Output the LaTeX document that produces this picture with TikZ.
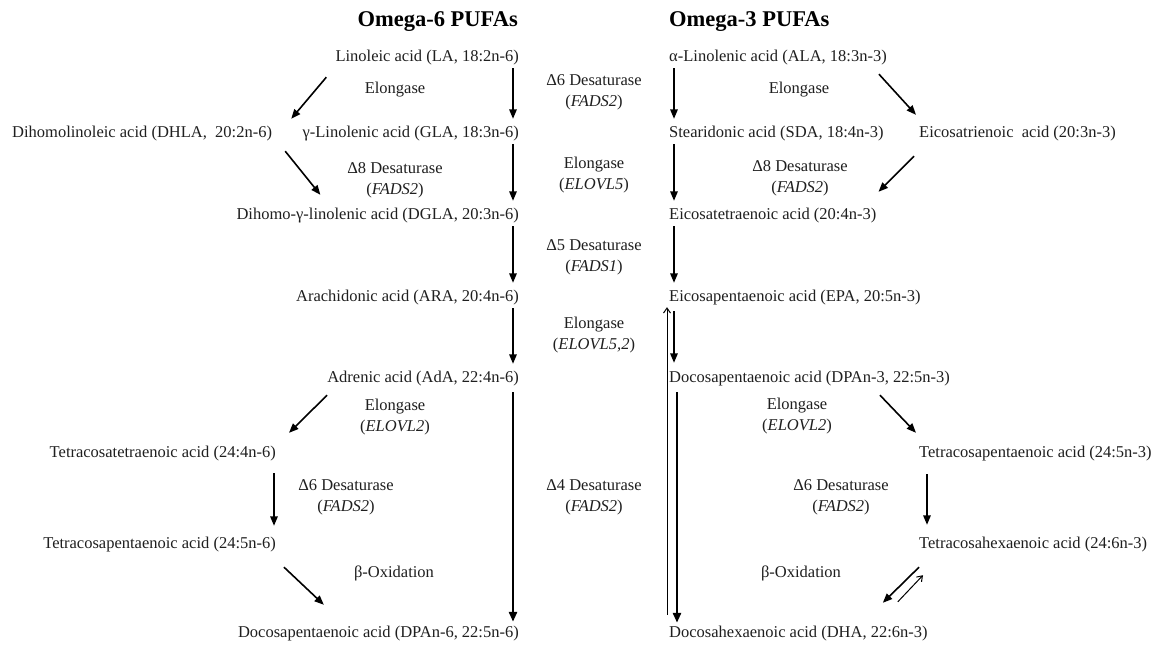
\documentclass[tikz,border=0pt]{standalone}
\usepackage{fontspec}
\setmainfont{Liberation Serif}
\usetikzlibrary{arrows.meta,calc}
\begin{document}
\begin{tikzpicture}[x=1pt,y=-1pt,
  tx/.style={font=\fontsize{16.5}{21}\selectfont, text=black!88, inner sep=0pt, text height=12pt, text depth=4pt},
  lbl/.style={font=\fontsize{16.5}{21}\selectfont, text=black!88, align=center, inner sep=0pt},
  ttl/.style={font=\fontsize{22.5}{26}\selectfont\bfseries, inner sep=0pt},
  arr/.style={line width=1.6pt, -{Triangle[length=9.5pt,width=7.5pt]}},
  thk/.style={line width=2.6pt, -{Triangle[length=10pt,width=8pt]}},
  thn/.style={line width=1pt, -{Straight Barb[length=5pt,width=7pt]}}]
\useasboundingbox (0,0) rectangle (1168,648);
\fill[white] (0,0) rectangle (1168,648);
% titles
\node[ttl,anchor=east] (t6) at (518,22) {Omega-6 PUFAs};
\node[ttl,anchor=west] (t3) at (669,22) {Omega-3 PUFAs};
% omega-6 column
\node[tx,anchor=east] (la) at (519,57) {Linoleic acid (LA, 18:2n-6)};
\node[tx,anchor=east] (gla) at (519,133) {γ-Linolenic acid (GLA, 18:3n-6)};
\node[tx,anchor=west] (dhla) at (12,133) {Dihomolinoleic acid (DHLA,\ \ 20:2n-6)};
\node[tx,anchor=east] (dgla) at (519,215) {Dihomo-γ-linolenic acid (DGLA, 20:3n-6)};
\node[tx,anchor=east] (ara) at (519,297) {Arachidonic acid (ARA, 20:4n-6)};
\node[tx,anchor=east] (ada) at (519,378) {Adrenic acid (AdA, 22:4n-6)};
\node[tx,anchor=east] (tta) at (276,453) {Tetracosatetraenoic acid (24:4n-6)};
\node[tx,anchor=east] (tpa6) at (276,544) {Tetracosapentaenoic acid (24:5n-6)};
\node[tx,anchor=east] (dpa6) at (519,633) {Docosapentaenoic acid (DPAn-6, 22:5n-6)};
% omega-3 column
\node[tx,anchor=west] (ala) at (669,57) {α-Linolenic acid (ALA, 18:3n-3)};
\node[tx,anchor=west] (sda) at (669,133) {Stearidonic acid (SDA, 18:4n-3)};
\node[tx,anchor=west] (etr) at (919,133) {Eicosatrienoic\ \ acid (20:3n-3)};
\node[tx,anchor=west] (eta) at (669,215) {Eicosatetraenoic acid (20:4n-3)};
\node[tx,anchor=west] (epa) at (669,297) {Eicosapentaenoic acid (EPA, 20:5n-3)};
\node[tx,anchor=west] (dpa3) at (669,378) {Docosapentaenoic acid (DPAn-3, 22:5n-3)};
\node[tx,anchor=west] (tpa3) at (919,453) {Tetracosapentaenoic acid (24:5n-3)};
\node[tx,anchor=west] (tha) at (919,544) {Tetracosahexaenoic acid (24:6n-3)};
\node[tx,anchor=west] (dha) at (669,633) {Docosahexaenoic acid (DHA, 22:6n-3)};
% enzyme labels, left
\node[lbl] (l1) at (395,90) {Elongase};
\node[lbl] (l2) at (395,180) {Δ8 Desaturase\\(\textit{FADS2})};
\node[lbl] (l3) at (395,417) {Elongase\\(\textit{ELOVL2})};
\node[lbl] (l4) at (346,497) {Δ6 Desaturase\\(\textit{FADS2})};
\node[lbl] (l5) at (394,573) {β-Oxidation};
% enzyme labels, middle
\node[lbl] (m1) at (594,92) {Δ6 Desaturase\\(\textit{FADS2})};
\node[lbl] (m2) at (594,175) {Elongase\\(\textit{ELOVL5})};
\node[lbl] (m3) at (594,257) {Δ5 Desaturase\\(\textit{FADS1})};
\node[lbl] (m4) at (594,335) {Elongase\\(\textit{ELOVL5,2})};
\node[lbl] (m5) at (594,497) {Δ4 Desaturase\\(\textit{FADS2})};
% enzyme labels, right
\node[lbl] (r1) at (799,90) {Elongase};
\node[lbl] (r2) at (800,178) {Δ8 Desaturase\\(\textit{FADS2})};
\node[lbl] (r3) at (797,416) {Elongase\\(\textit{ELOVL2})};
\node[lbl] (r4) at (841,497) {Δ6 Desaturase\\(\textit{FADS2})};
\node[lbl] (r5) at (801,573) {β-Oxidation};
% omega-6 arrows
\draw[arr] ($(la.south east)+(-6,3)$) -- ($(gla.north east)+(-6,-6)$);
\draw[arr] ($(gla.south east)+(-6,3)$) -- ($(dgla.north east)+(-6,-6)$);
\draw[arr] ($(dgla.south east)+(-6,3)$) -- ($(ara.north east)+(-6,-6)$);
\draw[arr] ($(ara.south east)+(-6,3)$) -- ($(ada.north east)+(-6,-6)$);
\draw[thk] ($(ada.south east)+(-6,6)$) -- ($(dpa6.north east)+(-6,-3)$);
\draw[arr] ($(la.south west)+(-9,12)$) -- ($(dhla.north east)+(19,-6)$);
\draw[arr] ($(dhla.south east)+(13,10)$) -- ($(dgla.north west)+(84,-12)$);
\draw[arr] ($(ada.south west)+(0,9)$) -- ($(tta.north east)+(13,-12)$);
\draw[arr] ($(tta.south east)+(-2,12)$) -- ($(tpa6.north east)+(-2,-10)$);
\draw[arr] ($(tpa6.south east)+(8,15)$) -- ($(dpa6.north west)+(86,-20)$);
% omega-3 arrows
\draw[arr] ($(ala.south west)+(5,3)$) -- ($(sda.north west)+(5,-6)$);
\draw[arr] ($(sda.south west)+(5,3)$) -- ($(eta.north west)+(5,-6)$);
\draw[arr] ($(eta.south west)+(5,3)$) -- ($(epa.north west)+(5,-6)$);
\draw[arr] ($(epa.south west)+(5,6)$) -- ($(dpa3.north west)+(5,-7)$);
\draw[thk] ($(dpa3.south west)+(8,6)$) -- ($(dha.north west)+(8,-2)$);
\draw[thn] ($(dha.north west)+(-2,-10)$) -- ($(epa.south west)+(-2,2)$);
\draw[arr] ($(ala.south east)+(-8,9)$) -- ($(etr.north west)+(-3,-10)$);
\draw[arr] ($(etr.south west)+(-5,15)$) -- ($(eta.north east)+(2,-15)$);
\draw[arr] ($(dpa3.south west)+(211,9)$) -- ($(tpa3.north west)+(-3,-12)$);
\draw[arr] ($(tpa3.south west)+(8,13)$) -- ($(tha.north west)+(8,-11)$);
\draw[arr] ($(tha.south west)+(0,15)$) -- ($(dha.north east)+(-45,-22)$);
\draw[thn] ($(dha.north east)+(-30,-23)$) -- ($(tha.south west)+(4,23)$);
\end{tikzpicture}
\end{document}
